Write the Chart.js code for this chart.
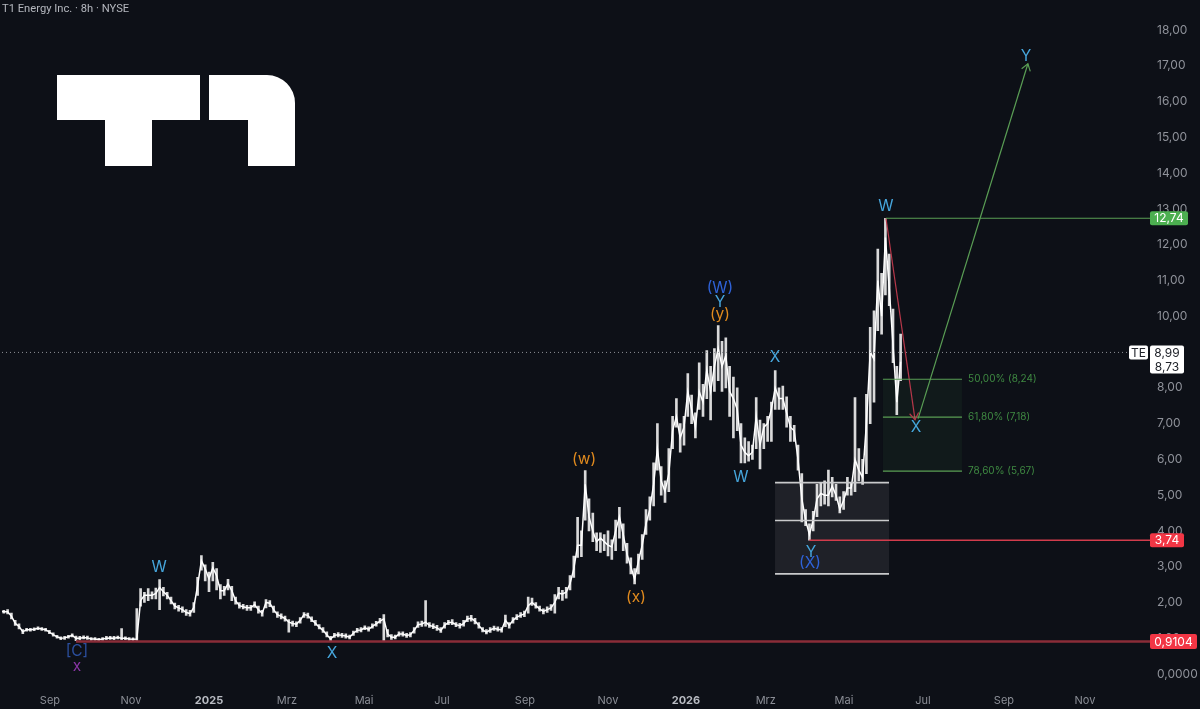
<!DOCTYPE html>
<html>
<head>
<meta charset="utf-8">
<title>T1 Energy Inc. 8h</title>
<script src="https://cdn.jsdelivr.net/npm/chart.js@4"></script>
<style>
  html, body { margin: 0; padding: 0; background: #0d1017; }
  canvas { display: block; }
</style>
</head>
<body>
<canvas id="chart" width="1200" height="709"></canvas>
<script>
// x axis is counted in trading sessions, one reading every two sessions
const sessionsPerBar = 2;

const closes = [
  1.75,1.74,1.74,1.62,1.42,1.33,1.18,1.24,1.24,1.25,
  1.28,1.26,1.24,1.17,1.10,1.04,1.00,1.01,1.04,1.08,
  1.00,1.00,1.02,1.01,0.98,0.98,0.96,0.98,1.00,1.01,
  1.00,1.02,1.00,1.00,0.98,0.97,0.98,2.05,2.20,2.20,
  2.20,2.25,2.42,2.30,2.20,2.05,1.90,1.85,1.80,1.72,
  1.69,1.86,2.47,3.17,2.94,2.66,2.97,2.75,2.33,2.33,
  2.52,2.33,2.05,1.91,1.88,1.85,1.85,1.94,1.80,1.70,
  2.00,1.98,1.80,1.66,1.61,1.55,1.45,1.41,1.39,1.50,
  1.66,1.64,1.52,1.42,1.31,1.22,1.10,0.98,1.08,1.10,
  1.08,1.06,1.03,1.14,1.22,1.23,1.29,1.25,1.33,1.40,
  1.48,1.54,1.12,1.03,1.03,1.12,1.12,1.08,1.10,1.22,
  1.38,1.40,1.45,1.36,1.33,1.29,1.22,1.36,1.44,1.44,
  1.38,1.35,1.41,1.54,1.56,1.48,1.36,1.23,1.17,1.23,
  1.28,1.25,1.23,1.50,1.36,1.50,1.59,1.64,1.68,1.91,
  2.00,1.91,1.82,1.75,1.80,1.85,2.00,2.26,2.24,2.29,
  2.52,2.94,3.60,3.60,5.30,4.40,4.00,3.70,3.80,3.70,
  3.60,3.55,4.00,4.40,3.90,3.35,3.00,2.65,3.15,3.60,
  4.20,4.60,5.30,6.30,5.40,5.10,5.60,6.80,7.20,6.60,
  6.90,7.90,7.40,6.90,7.90,7.60,8.50,7.90,8.60,9.10,
  8.60,8.90,7.90,7.70,7.40,6.40,6.20,6.10,6.20,7.20,
  6.40,6.90,7.00,7.40,8.00,7.70,7.70,7.30,6.90,6.80,
  6.00,4.90,4.30,3.90,4.30,4.90,5.05,5.00,5.00,5.25,
  5.00,4.60,4.85,5.20,5.20,6.00,5.70,5.50,7.00,9.00,
  8.80,11.00,10.00,12.20,10.80,9.20,7.60,8.73
];

const highs = [
  1.79,1.78,1.80,1.70,1.50,1.40,1.24,1.28,1.28,1.29,
  1.32,1.30,1.28,1.22,1.15,1.08,1.04,1.05,1.08,1.12,
  1.06,1.05,1.07,1.06,1.02,1.02,1.00,1.02,1.05,1.05,
  1.05,1.06,1.27,1.04,1.02,1.01,1.83,2.39,2.28,2.39,
  2.30,2.40,2.64,2.42,2.28,2.15,1.98,1.92,1.88,1.80,
  1.78,2.00,2.70,3.31,3.05,2.85,3.12,2.95,2.50,2.45,
  2.65,2.45,2.15,2.00,1.95,1.92,1.92,2.02,1.90,1.78,
  2.08,2.05,1.90,1.74,1.68,1.62,1.52,1.48,1.46,1.58,
  1.72,1.70,1.60,1.50,1.38,1.30,1.18,1.05,1.14,1.16,
  1.14,1.12,1.09,1.20,1.28,1.30,1.35,1.32,1.40,1.47,
  1.56,1.66,1.24,1.10,1.09,1.18,1.18,1.14,1.16,1.30,
  1.46,1.48,2.05,1.44,1.40,1.36,1.30,1.44,1.50,1.52,
  1.44,1.42,1.50,1.62,1.64,1.56,1.44,1.30,1.24,1.30,
  1.34,1.32,1.30,1.65,1.44,1.58,1.66,1.72,1.76,2.15,
  2.12,2.00,1.90,1.82,1.88,1.94,2.22,2.42,2.34,2.42,
  2.75,3.30,4.38,4.00,5.69,4.90,4.50,3.95,3.95,3.90,
  4.00,3.75,4.30,4.66,4.20,3.65,3.25,2.95,3.35,3.90,
  4.60,4.95,5.90,7.00,5.80,5.40,6.30,7.20,7.70,7.00,
  7.20,8.40,7.80,7.30,8.70,8.10,9.04,8.60,9.10,9.74,
  9.30,9.40,8.60,8.30,8.00,7.00,6.60,6.50,6.40,7.73,
  7.10,7.00,7.20,7.60,8.48,8.00,8.05,7.75,7.20,6.95,
  6.40,5.60,4.60,4.20,4.55,5.30,5.35,5.40,5.70,5.50,
  5.30,4.95,5.10,5.50,5.35,7.73,6.30,6.00,7.82,9.69,
  10.15,11.88,11.20,12.74,11.74,10.20,8.60,9.50
];

const lows = [
  1.71,1.70,1.68,1.54,1.36,1.26,1.13,1.20,1.20,1.21,
  1.24,1.22,1.20,1.13,1.06,1.00,0.96,0.97,1.00,1.04,
  0.93,0.95,0.98,0.97,0.94,0.94,0.93,0.94,0.96,0.97,
  0.96,0.98,0.96,0.96,0.94,0.93,0.94,1.90,2.00,2.05,
  2.10,2.10,1.80,2.18,2.10,1.96,1.82,1.76,1.72,1.64,
  1.62,1.72,2.20,2.90,2.60,2.30,2.60,2.35,2.10,2.20,
  2.35,2.05,1.95,1.84,1.82,1.78,1.78,1.86,1.70,1.62,
  1.85,1.88,1.72,1.58,1.54,1.48,1.17,1.34,1.32,1.42,
  1.58,1.56,1.46,1.36,1.26,1.16,1.04,0.92,1.02,1.04,
  1.02,1.00,0.98,1.08,1.16,1.18,1.24,1.20,1.28,1.34,
  1.42,0.93,1.04,0.97,0.98,1.06,1.06,1.02,1.04,1.14,
  1.30,1.33,1.34,1.30,1.27,1.22,1.16,1.28,1.38,1.38,
  1.32,1.28,1.34,1.46,1.48,1.40,1.28,1.18,1.12,1.16,
  1.22,1.20,1.17,1.32,1.28,1.42,1.52,1.58,1.60,1.70,
  1.92,1.84,1.76,1.68,1.72,1.78,1.70,2.10,2.06,2.12,
  2.35,2.70,3.26,3.28,4.30,4.00,3.70,3.45,3.40,3.45,
  3.30,3.20,3.45,3.80,3.45,3.10,2.80,2.52,2.80,3.20,
  3.90,4.30,4.70,5.70,5.00,4.80,5.10,6.30,6.90,6.20,
  6.40,7.20,7.00,6.60,7.40,7.20,7.70,7.10,7.90,8.20,
  7.90,8.00,7.20,6.60,6.80,5.90,5.90,5.95,6.00,6.30,
  5.73,6.30,6.50,6.50,7.40,7.40,7.40,6.90,6.50,6.50,
  5.70,4.25,4.15,3.74,4.00,4.40,4.70,4.75,4.70,4.95,
  4.85,4.50,4.60,5.00,5.00,5.10,5.40,5.30,5.60,7.00,
  7.60,9.60,9.50,10.60,10.30,8.70,7.25,8.20
];

const monthLabels = ['Sep','Nov','2025','Mrz','Mai','Jul','Sep','Nov','2026','Mrz','Mai','Jul','Sep','Nov'];
const monthSessions = [26.3,68.9,110,151,191.6,232.6,276.3,320,361,403,444.2,485.8,528.4,571];
const priceTicks = [0,1,2,3,4,5,6,7,8,9,10,11,12,13,14,15,16,17,18];

const lastPrice = 8.99;
const lastClose = 8.73;
const swingHigh = 12.74;
const swingLow = 3.74;
const baseLevel = 0.9104;

const fibLabels = ['50,00% (8,24)', '61,80% (7,18)', '78,60% (5,67)'];
const fibLevels = [8.24, 7.18, 5.67];
const zoneLevels = [5.35, 4.29, 2.80];

// wave counts: text, session, price
const waveLabels = [
  ['[C]', 40.5, 0.63, '#2b4f9e'], ['x', 40.5, 0.21, '#8a35a6'],
  ['W', 83.7, 2.98, '#46a6dc'], ['X', 174.7, 0.57, '#46a6dc'],
  ['(w)', 307.4, 6.0, '#e08a1e'], ['(x)', 334.7, 2.14, '#e08a1e'],
  ['(y)', 378.9, 10.05, '#e08a1e'], ['Y', 378.9, 10.38, '#46a6dc'],
  ['(W)', 378.9, 10.77, '#2f62d8'], ['W', 390, 5.49, '#46a6dc'],
  ['X', 407.9, 8.85, '#46a6dc'], ['Y', 426.8, 3.4, '#46a6dc'],
  ['(X)', 426.3, 3.09, '#2f62d8'], ['W', 466.3, 13.07, '#46a6dc'],
  ['X', 482.1, 6.89, '#46a6dc'], ['Y', 540, 17.26, '#46a6dc']
];

const green = '#5a9e55';
const red = '#d23c4c';
const xMin = 1.05, xMax = 605.26;
const fibStart = 464.7, fibEnd = 506.3;
const zoneStart = 407.9, zoneEnd = 467.9;

const fmt = v => v.toFixed(2).replace('.', ',');

function segment(x1, y1, x2, y2, color, width, dash) {
  return {
    type: 'line',
    data: [{ x: x1, y: y1 }, { x: x2, y: y2 }],
    borderColor: color,
    borderWidth: width,
    borderDash: dash || [],
    pointRadius: 0,
    order: 1
  };
}

// red drop then the green leg up
const arrows = [
  { from: [466.3, 12.74], to: [481.6, 7.11], color: '#b8384a' },
  { from: [483.2, 7.14], to: [541, 17.06], color: green }
];

const datasets = [
  {
    type: 'bar',
    data: closes.map((c, i) => ({ x: i * sessionsPerBar, y: [lows[i], highs[i]] })),
    backgroundColor: 'rgba(240,240,240,0.9)',
    barThickness: 2,
    order: 3
  },
  {
    type: 'line',
    data: closes.map((c, i) => ({ x: i * sessionsPerBar, y: c })),
    borderColor: '#ffffff',
    borderWidth: 1.5,
    pointRadius: 0,
    tension: 0,
    order: 2
  },
  segment(xMin, lastPrice, xMax, lastPrice, '#8d9096', 1, [1, 3]),
  segment(40, baseLevel, xMax, baseLevel, '#8a2c38', 2.5),
  segment(426, swingLow, xMax, swingLow, red, 1.4),
  segment(466.3, swingHigh, xMax, swingHigh, green, 1.1)
];
fibLevels.forEach(l => datasets.push(segment(fibStart, l, fibEnd, l, green, 1.2)));
zoneLevels.forEach(l => datasets.push(segment(zoneStart, l, zoneEnd, l, '#c9cacc', 1.6)));
arrows.forEach(a => datasets.push(segment(a.from[0], a.from[1], a.to[0], a.to[1], a.color, 1.2)));

function drawLogo(ctx) {
  ctx.fillStyle = '#ffffff';
  ctx.beginPath();
  ctx.moveTo(57, 75); ctx.lineTo(200, 75); ctx.lineTo(200, 120); ctx.lineTo(152, 120);
  ctx.lineTo(152, 166); ctx.lineTo(105, 166); ctx.lineTo(105, 120); ctx.lineTo(57, 120);
  ctx.closePath();
  ctx.fill();
  ctx.beginPath();
  ctx.moveTo(209, 75); ctx.lineTo(267, 75); ctx.arcTo(295, 75, 295, 103, 28);
  ctx.lineTo(295, 166); ctx.lineTo(248, 166); ctx.lineTo(248, 120); ctx.lineTo(209, 120);
  ctx.closePath();
  ctx.fill();
}

function tag(ctx, text, left, top, width, height, fill, color) {
  ctx.fillStyle = fill;
  ctx.beginPath();
  ctx.roundRect(left, top, width, height, 2);
  ctx.fill();
  ctx.fillStyle = color;
  ctx.textAlign = 'center';
  ctx.fillText(text, left + width / 2, top + height / 2 + 0.5);
}

const overlay = {
  id: 'overlay',
  beforeDatasetsDraw(chart) {
    const { ctx, scales: { x, y } } = chart;
    ctx.save();
    drawLogo(ctx);
    ctx.fillStyle = 'rgba(255,255,255,0.075)';
    ctx.fillRect(x.getPixelForValue(zoneStart), y.getPixelForValue(zoneLevels[0]),
      x.getPixelForValue(zoneEnd) - x.getPixelForValue(zoneStart),
      y.getPixelForValue(zoneLevels[2]) - y.getPixelForValue(zoneLevels[0]));
    ctx.fillStyle = 'rgba(76,175,80,0.07)';
    ctx.fillRect(x.getPixelForValue(fibStart), y.getPixelForValue(fibLevels[0]),
      x.getPixelForValue(fibEnd) - x.getPixelForValue(fibStart),
      y.getPixelForValue(fibLevels[2]) - y.getPixelForValue(fibLevels[0]));
    ctx.restore();
  },
  afterDatasetsDraw(chart) {
    const { ctx, scales: { x, y } } = chart;
    ctx.save();
    ctx.textBaseline = 'middle';

    // arrow heads
    arrows.forEach(a => {
      const px = x.getPixelForValue(a.to[0]), py = y.getPixelForValue(a.to[1]);
      const angle = Math.atan2(py - y.getPixelForValue(a.from[1]), px - x.getPixelForValue(a.from[0]));
      ctx.strokeStyle = a.color;
      ctx.lineWidth = 1.2;
      ctx.beginPath();
      ctx.moveTo(px - 8 * Math.cos(angle - 0.6), py - 8 * Math.sin(angle - 0.6));
      ctx.lineTo(px, py);
      ctx.lineTo(px - 8 * Math.cos(angle + 0.6), py - 8 * Math.sin(angle + 0.6));
      ctx.stroke();
    });

    ctx.textAlign = 'left';
    ctx.font = '10px Inter';
    ctx.fillStyle = '#3f8a42';
    fibLabels.forEach((t, i) => ctx.fillText(t, x.getPixelForValue(509.5), y.getPixelForValue(fibLevels[i])));

    ctx.textAlign = 'center';
    ctx.font = '15.5px Inter';
    waveLabels.forEach(l => {
      ctx.fillStyle = l[3];
      ctx.fillText(l[0], x.getPixelForValue(l[1]), y.getPixelForValue(l[2]));
    });

    // price tags on the axis
    const right = x.right;
    ctx.font = '12px Inter';
    tag(ctx, fmt(swingHigh), right, y.getPixelForValue(swingHigh) - 7, 38, 14, '#4caf50', '#ffffff');
    tag(ctx, fmt(swingLow), right, y.getPixelForValue(swingLow) - 7, 34, 14, '#f23645', '#ffffff');
    tag(ctx, String(baseLevel).replace('.', ','), right, y.getPixelForValue(baseLevel) - 7.5, 47, 15, '#f23645', '#ffffff');

    const lastY = y.getPixelForValue(lastPrice);
    tag(ctx, 'TE', right - 21, lastY - 7, 19, 14, '#ffffff', '#20232a');
    ctx.fillStyle = '#ffffff';
    ctx.beginPath();
    ctx.roundRect(right, lastY - 7, 34, 28, 2);
    ctx.fill();
    ctx.fillStyle = '#20232a';
    ctx.textAlign = 'center';
    ctx.fillText(fmt(lastPrice), right + 17, lastY + 0.5);
    ctx.fillText(fmt(lastClose), right + 17, lastY + 14.5);
    ctx.restore();
  }
};

new Chart(document.getElementById('chart'), {
  type: 'bar',
  data: { datasets },
  plugins: [overlay],
  options: {
    responsive: false,
    animation: false,
    layout: { padding: { left: 2 } },
    plugins: {
      legend: { display: false },
      tooltip: { enabled: false },
      title: {
        display: true,
        text: 'T1 Energy Inc. · 8h · NYSE',
        align: 'start',
        color: '#b4b7be',
        font: { family: 'Roboto', size: 11.2, weight: 'normal' },
        padding: { top: 2, bottom: 2 }
      }
    },
    scales: {
      x: {
        type: 'linear',
        offset: false,
        min: xMin,
        max: xMax,
        grid: { display: false, drawTicks: false },
        border: { display: false },
        afterFit(axis) { axis.height = 22; },
        afterBuildTicks(axis) { axis.ticks = monthSessions.map(v => ({ value: v })); },
        ticks: {
          autoSkip: false,
          maxRotation: 0,
          padding: 7,
          callback: (v, i) => monthLabels[i],
          color: c => (c.index === 2 || c.index === 8) ? '#b8bbc2' : '#8b8e96',
          font: c => ({ family: 'Inter', size: 11, weight: (c.index === 2 || c.index === 8) ? 'bold' : 'normal' })
        }
      },
      y: {
        type: 'linear',
        position: 'right',
        min: -0.363,
        max: 18.354,
        grid: { display: false, drawTicks: false },
        border: { display: false },
        afterFit(axis) { axis.width = 50; },
        afterBuildTicks(axis) { axis.ticks = priceTicks.map(v => ({ value: v })); },
        ticks: {
          autoSkip: false,
          padding: 7,
          color: '#8f929a',
          font: { family: 'Inter', size: 12 },
          callback: v => v === 0 ? '0,0000' : fmt(v)
        }
      }
    }
  }
});
</script>
</body>
</html>
